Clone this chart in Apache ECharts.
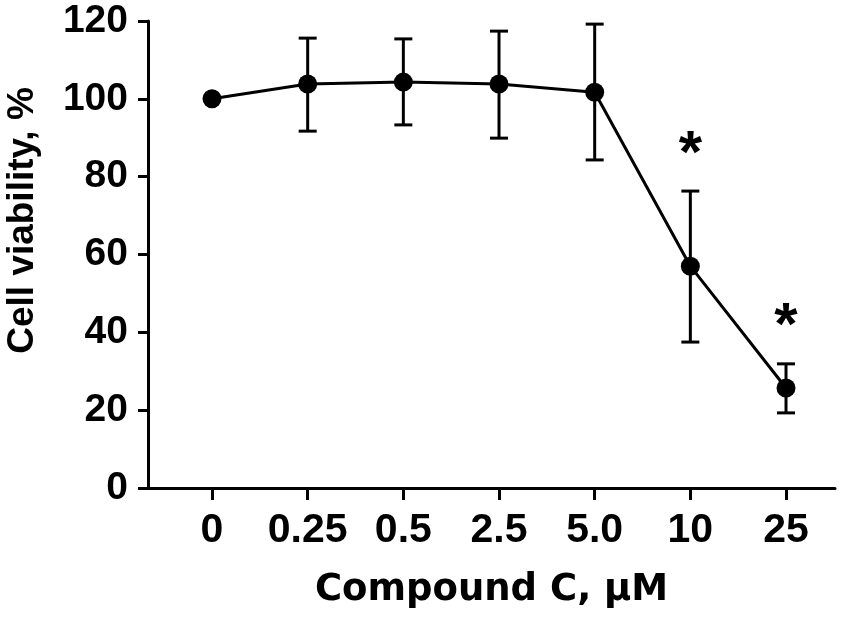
<!DOCTYPE html>
<html>
<head>
<meta charset="utf-8">
<script src="https://cdn.jsdelivr.net/npm/echarts@6/dist/echarts.min.js"></script>
<style>
html,body{margin:0;padding:0;background:#fff;}
#chart{width:858px;height:625px;}
</style>
</head>
<body>
<div id="chart"></div>
<script>
const categories = ['0', '0.25', '0.5', '2.5', '5.0', '10', '25'];
const viability = [100, 103.8, 104.3, 103.8, 101.7, 57.0, 25.7];
const errLow = [100, 91.7, 93.3, 89.9, 84.3, 37.5, 19.3];
const errHigh = [100, 115.6, 115.4, 117.4, 119.2, 76.3, 31.9];
const significance = ['', '', '', '', '', '*', '*'];
const yTickValues = [0, 20, 40, 60, 80, 100, 120];

const lineData = viability.map((v, i) => [i, v]);
const errData = categories.map((c, i) => [i, errLow[i], errHigh[i], significance[i]]);
const catIndex = categories.map((c, i) => i);

const chart = echarts.init(document.getElementById('chart'));
const option = {
  animation: false,
  backgroundColor: '#fff',
  grid: { left: 148, right: 23, top: 21, bottom: 137, containLabel: false, outerBoundsMode: 'none' },
  xAxis: {
    type: 'value',
    min: -0.669,
    max: 6.512,
    name: 'Compound C, \u00b5M',
    nameLocation: 'middle',
    nameGap: 84,
    nameTextStyle: { fontFamily: 'DejaVu Sans', fontWeight: 'bold', fontSize: 37, color: '#000' },
    axisLine: { show: true, onZero: false, lineStyle: { color: '#000', width: 3 } },
    axisTick: { show: true, length: 12, customValues: catIndex, lineStyle: { color: '#000', width: 3 } },
    axisLabel: {
      show: true, customValues: catIndex, margin: 22,
      formatter: v => categories[Math.round(v)],
      fontFamily: 'Liberation Sans', fontWeight: 'bold', fontSize: 41, color: '#000'
    },
    splitLine: { show: false }
  },
  yAxis: {
    type: 'value',
    min: 0,
    max: 120,
    interval: 20,
    name: 'Cell viability, %',
    nameLocation: 'middle',
    nameRotate: 90,
    nameGap: 107,
    nameTextStyle: { fontFamily: 'Liberation Sans', fontWeight: 'bold', fontSize: 37, color: '#000', padding: [0, 0, 0, 68] },
    axisLine: { show: true, onZero: false, lineStyle: { color: '#000', width: 3 } },
    axisTick: { show: true, length: 10, lineStyle: { color: '#000', width: 3 } },
    axisLabel: { margin: 20, fontFamily: 'Liberation Sans', fontWeight: 'bold', fontSize: 39, color: '#000' },
    splitLine: { show: false }
  },
  series: [
    {
      type: 'custom',
      data: errData,
      z: 2,
      renderItem: function (params, api) {
        const x = api.value(0);
        const lo = api.coord([x, api.value(1)]);
        const hi = api.coord([x, api.value(2)]);
        const sig = significance[params.dataIndex];
        const half = 9;
        const children = [];
        const st = { stroke: '#000', lineWidth: 3 };
        if (api.value(1) !== api.value(2)) {
          children.push({ type: 'line', shape: { x1: lo[0], y1: lo[1], x2: hi[0], y2: hi[1] }, style: st });
          children.push({ type: 'line', shape: { x1: lo[0] - half, y1: lo[1], x2: lo[0] + half, y2: lo[1] }, style: st });
          children.push({ type: 'line', shape: { x1: hi[0] - half, y1: hi[1], x2: hi[0] + half, y2: hi[1] }, style: st });
        }
        if (sig) {
          children.push({
            type: 'text',
            style: {
              text: sig, x: hi[0], y: hi[1] - 36,
              align: 'center', verticalAlign: 'middle',
              font: 'bold 60px "Liberation Sans"', fill: '#000'
            }
          });
        }
        return { type: 'group', children: children };
      }
    },
    {
      type: 'line',
      data: lineData,
      z: 3,
      symbol: 'circle',
      symbolSize: 19,
      lineStyle: { color: '#000', width: 3 },
      itemStyle: { color: '#000' },
      label: { show: false }
    }
  ]
};
chart.setOption(option);
</script>
</body>
</html>
